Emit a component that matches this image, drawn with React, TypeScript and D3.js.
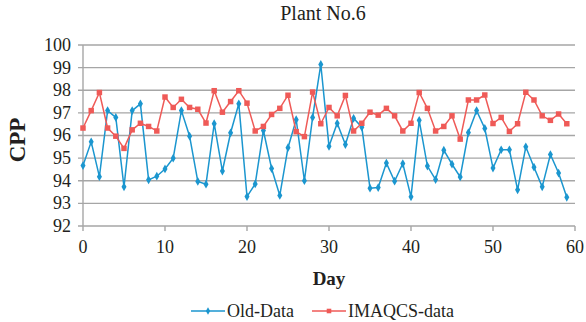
import { useEffect, useRef } from "react";
import * as d3 from "d3";

const days = d3.range(0, 60);

const oldData = [
  94.67, 95.72, 94.18, 97.1, 96.8, 93.73, 97.1, 97.4, 94.04, 94.2,
  94.52, 95.0, 97.1, 95.97, 93.97, 93.85, 96.52, 94.43, 96.12, 97.4,
  93.3, 93.86, 96.22, 94.54, 93.35, 95.46, 96.7, 94.0, 96.8, 99.14,
  95.52, 96.54, 95.6, 96.76, 96.37, 93.67, 93.7, 94.78, 93.98, 94.76,
  93.29, 96.67, 94.65, 94.05, 95.35, 94.73, 94.17, 96.13, 97.1, 96.31,
  94.56, 95.37, 95.37, 93.6, 95.5, 94.6, 93.73, 95.16, 94.34, 93.27,
];

const imaqcsData = [
  96.33, 97.1, 97.9, 96.33, 95.97, 95.43, 96.25, 96.54, 96.4, 96.2,
  97.7, 97.24, 97.6, 97.24, 97.16, 96.55, 97.98, 97.03, 97.5, 97.98,
  97.43, 96.2, 96.4, 96.93, 97.2, 97.78, 96.17, 95.95, 97.92, 96.52,
  97.24, 96.87, 97.77, 96.2, 96.54, 97.03, 96.9, 97.2, 96.87, 96.2,
  96.54, 97.9, 97.2, 96.2, 96.4, 96.87, 95.84, 97.57, 97.57, 97.79,
  96.53, 96.8, 96.18, 96.52, 97.91, 97.57, 96.87, 96.67, 96.95, 96.52,
];

const yTicks = [92, 93, 94, 95, 96, 97, 98, 99, 100];
const xTicks = [0, 10, 20, 30, 40, 50, 60];

const seriesNames = ["Old-Data", "IMAQCS-data"];
const blue = "#1b96cf";
const red = "#ef5a57";
const textColor = "#231f20";
const font = "Liberation Serif, Times New Roman, DejaVu Serif, serif";

function App() {
  const svgRef = useRef<SVGSVGElement>(null);

  useEffect(() => {
    const width = 586;
    const height = 322;
    const margin = { top: 45, right: 11, bottom: 96, left: 83 };

    const svg = d3.select(svgRef.current);
    svg.selectAll("*").remove();
    svg.attr("width", width).attr("height", height).attr("font-family", font);

    const x = d3
      .scaleLinear()
      .domain([0, 60])
      .range([margin.left, width - margin.right]);
    const y = d3
      .scaleLinear()
      .domain([92, 100])
      .range([height - margin.bottom, margin.top]);

    // gridlines (with small tick stubs left of the axis)
    svg
      .append("g")
      .selectAll("line")
      .data(yTicks)
      .enter()
      .append("line")
      .attr("x1", margin.left - 5)
      .attr("x2", width - margin.right)
      .attr("y1", (d) => y(d))
      .attr("y2", (d) => y(d))
      .attr("stroke", "#a6a6a6")
      .attr("stroke-width", 1.4);

    svg
      .append("line")
      .attr("x1", x(0))
      .attr("x2", x(0))
      .attr("y1", y(100))
      .attr("y2", y(92))
      .attr("stroke", "#a6a6a6")
      .attr("stroke-width", 1.4);

    svg
      .append("g")
      .selectAll("line")
      .data(xTicks)
      .enter()
      .append("line")
      .attr("x1", (d) => x(d))
      .attr("x2", (d) => x(d))
      .attr("y1", y(92))
      .attr("y2", y(92) + 5)
      .attr("stroke", "#a6a6a6")
      .attr("stroke-width", 1.4);

    svg
      .append("g")
      .selectAll("text")
      .data(yTicks)
      .enter()
      .append("text")
      .attr("x", margin.left - 12)
      .attr("y", (d) => y(d))
      .attr("dy", "0.33em")
      .attr("text-anchor", "end")
      .attr("font-size", 18)
      .attr("fill", textColor)
      .text((d) => d);

    svg
      .append("g")
      .selectAll("text")
      .data(xTicks)
      .enter()
      .append("text")
      .attr("x", (d) => x(d))
      .attr("y", y(92) + 27)
      .attr("text-anchor", "middle")
      .attr("font-size", 18)
      .attr("fill", textColor)
      .text((d) => d);

    // title
    svg
      .append("text")
      .attr("x", 323)
      .attr("y", 20)
      .attr("text-anchor", "middle")
      .attr("font-size", 20)
      .attr("fill", textColor)
      .text("Plant No.6");

    svg
      .append("text")
      .attr("x", (margin.left + width - margin.right) / 2)
      .attr("y", 285)
      .attr("text-anchor", "middle")
      .attr("font-size", 19)
      .attr("font-weight", "bold")
      .attr("fill", textColor)
      .text("Day");

    svg
      .append("text")
      .attr("transform", "translate(25, 140) rotate(-90)")
      .attr("text-anchor", "middle")
      .attr("font-size", 23)
      .attr("font-weight", "bold")
      .attr("fill", textColor)
      .text("CPP");

    const line = d3
      .line<number>()
      .x((d, i) => x(days[i]))
      .y((d) => y(d));

    const series = [
      { name: seriesNames[0], values: oldData, color: blue, symbol: d3.symbolDiamond, size: 22 },
      { name: seriesNames[1], values: imaqcsData, color: red, symbol: d3.symbolSquare, size: 30 },
    ];

    series.forEach((s) => {
      svg
        .append("path")
        .attr("d", line(s.values))
        .attr("fill", "none")
        .attr("stroke", s.color)
        .attr("stroke-width", 1.5);

      svg
        .append("g")
        .selectAll("path")
        .data(s.values)
        .enter()
        .append("path")
        .attr("d", d3.symbol().type(s.symbol).size(s.size)())
        .attr("transform", (d, i) => `translate(${x(days[i])}, ${y(d)})`)
        .attr("fill", s.color);
    });

    // legend
    const legendX = [191, 312];
    const legend = svg
      .append("g")
      .selectAll("g")
      .data(series)
      .enter()
      .append("g")
      .attr("transform", (d, i) => `translate(${legendX[i]}, 311)`);

    legend
      .append("line")
      .attr("x1", 0)
      .attr("x2", 34)
      .attr("stroke", (d) => d.color)
      .attr("stroke-width", 1.5);

    legend
      .append("path")
      .attr("d", (d) => d3.symbol().type(d.symbol).size(d.size * 0.7)())
      .attr("transform", "translate(17, 0)")
      .attr("fill", (d) => d.color);

    legend
      .append("text")
      .attr("x", 36)
      .attr("y", 5.5)
      .attr("font-size", 18)
      .attr("fill", textColor)
      .text((d) => d.name);
  }, []);

  return (
    <svg
      ref={svgRef}
      style={{ position: "absolute", left: 0, top: 0, background: "#fff" }}
    ></svg>
  );
}

export default App;
